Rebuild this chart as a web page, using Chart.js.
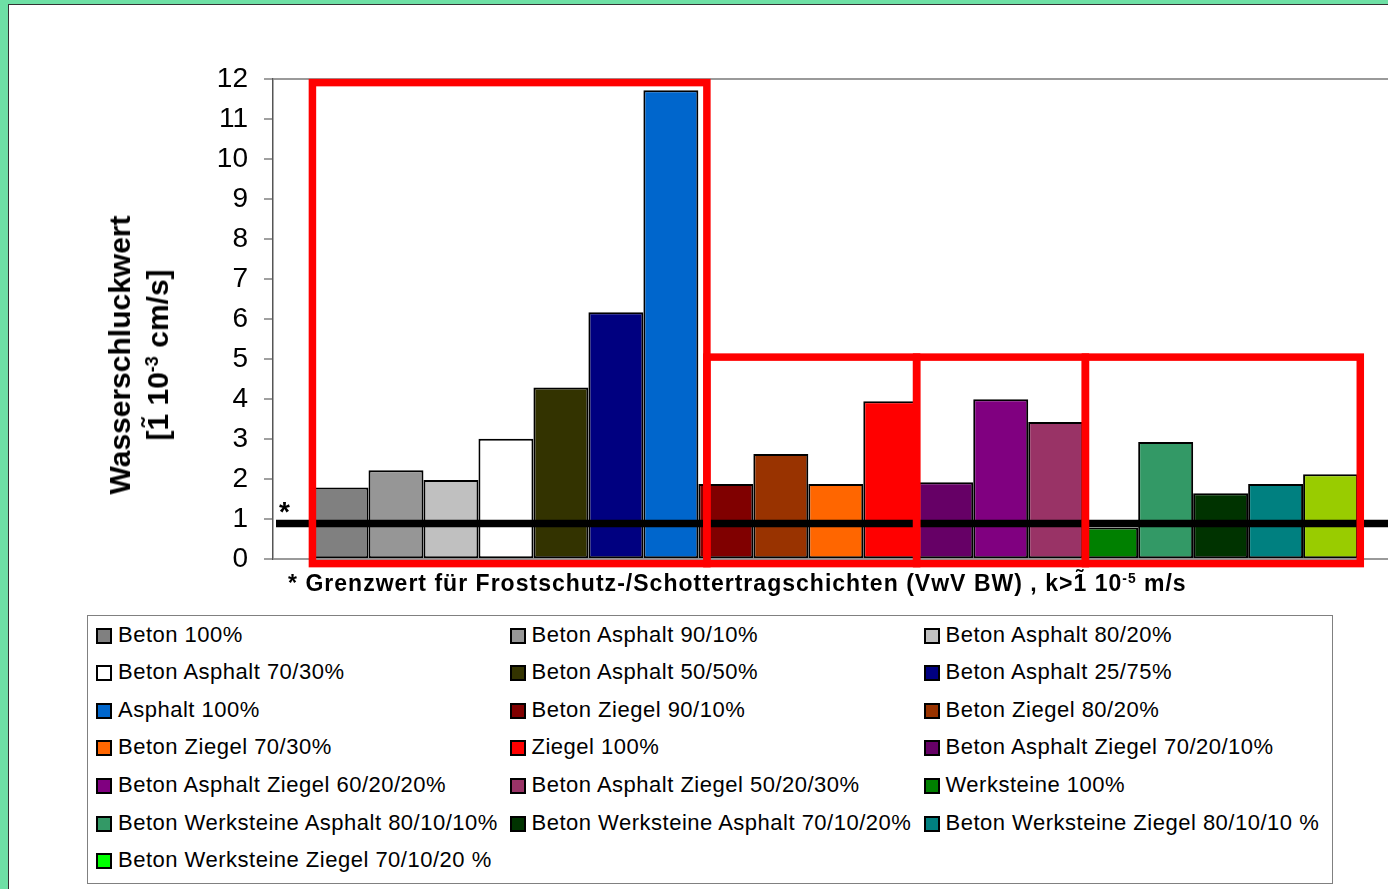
<!DOCTYPE html>
<html><head><meta charset="utf-8">
<script src="https://cdn.jsdelivr.net/npm/chart.js@4.4.1/dist/chart.umd.min.js"></script>
<style>
html,body{margin:0;padding:0;}
body{width:1388px;height:889px;overflow:hidden;position:relative;background:#fff;font-family:"Liberation Sans",Arial,sans-serif;color:#000;}
#greenTop{position:absolute;left:0;top:0;width:1388px;height:4px;background:#6EE0A5;}
#greenLeft{position:absolute;left:0;top:0;width:8px;height:889px;background:#6EE0A5;}
#frame{position:absolute;left:8px;top:4px;width:1400px;height:900px;border-left:1.5px solid #333;border-top:1.5px solid #333;}
#chartWrap{position:absolute;left:0;top:0;width:1400px;height:592px;}
#ytitle{position:absolute;left:139px;top:355px;transform:translate(-50%,-50%) rotate(-90deg);font-weight:bold;font-size:30px;text-align:center;line-height:38px;white-space:nowrap;}
#ytitle sup, #foot sup{font-size:0.6em;line-height:0;vertical-align:0.55em;}
#foot{position:absolute;left:288px;top:570px;font-weight:bold;font-size:23px;line-height:26px;letter-spacing:1.02px;white-space:nowrap;}
#star{position:absolute;left:279px;top:498px;font-weight:bold;font-size:28px;line-height:28px;}
#legendBox{position:absolute;left:87px;top:615px;width:1246px;height:269px;border:1.5px solid #808080;box-sizing:border-box;}
.item{position:absolute;font-size:22px;line-height:26px;letter-spacing:0.5px;white-space:nowrap;}
.sw{position:absolute;width:16px;height:16px;border:2px solid #000;box-sizing:border-box;}
</style></head>
<body>
<div id="greenTop"></div><div id="greenLeft"></div><div id="frame"></div>
<div id="chartWrap"><canvas id="c" width="1400" height="592"></canvas></div>
<div id="ytitle">Wasserschluckwert<br>[1&#x0303; 10<sup>-3</sup> cm/s]</div>
<div id="star">*</div>
<div id="foot">* Grenzwert für Frostschutz-/Schottertragschichten (VwV BW) , k&gt;1&#x0303; 10<sup>-5</sup> m/s</div>
<div id="legendBox"></div>
<script>
const categories = [
  "Beton 100%", "Beton Asphalt 90/10%", "Beton Asphalt 80/20%",
  "Beton Asphalt 70/30%", "Beton Asphalt 50/50%", "Beton Asphalt 25/75%",
  "Asphalt 100%", "Beton Ziegel 90/10%", "Beton Ziegel 80/20%",
  "Beton Ziegel 70/30%", "Ziegel 100%", "Beton Asphalt Ziegel 70/20/10%",
  "Beton Asphalt Ziegel 60/20/20%", "Beton Asphalt Ziegel 50/20/30%", "Werksteine 100%",
  "Beton Werksteine Asphalt 80/10/10%", "Beton Werksteine Asphalt 70/10/20%", "Beton Werksteine Ziegel 80/10/10 %",
  "Beton Werksteine Ziegel 70/10/20 %"
];
const values = [1.79, 2.22, 1.98, 3.01, 4.29, 6.17, 11.72, 1.88, 2.63, 1.88, 3.95, 1.92, 4.00, 3.43, 0.79, 2.93, 1.65, 1.88, 2.12];
const barColors = ["#808080","#969696","#C0C0C0","#FFFFFF","#333300","#000080","#0066CC","#800000","#993300","#FF6600","#FF0000","#660066","#800080","#993366","#008000","#339966","#003300","#008080","#99CC00"];
const legendColors = ["#808080","#969696","#C0C0C0","#FFFFFF","#333300","#000080","#0066CC","#800000","#993300","#FF6600","#FF0000","#660066","#800080","#993366","#008000","#339966","#003300","#008080","#00FF00"];
const yMin = 0, yMax = 12, yStep = 1;
const limitValue = 0.89;
// highlight boxes in bar-index units and value units
const boxStart = [-0.02, 7.155, 10.97, 14.04];
const boxEnd   = [7.155, 10.97, 14.04, 19.04];
const boxTop   = [11.91, 5.05, 5.05, 5.05];
const boxBottom = -0.11;

// legend (HTML)
const cols = [96, 509.5, 923.5];
categories.forEach((name,i)=>{
  const r = Math.floor(i/3), c = i%3;
  const cy = 634 + r*37.6;
  const sw = document.createElement('div');
  sw.className='sw'; sw.style.left=cols[c]+'px'; sw.style.top=(cy+1.5-8)+'px'; sw.style.background=legendColors[i];
  document.body.appendChild(sw);
  const t = document.createElement('div');
  t.className='item'; t.textContent=name; t.style.left=(cols[c]+22)+'px'; t.style.top=(cy-12.5)+'px';
  document.body.appendChild(t);
});

const annot = {
  id:'annot',
  afterDatasetsDraw(chart){
    const ctx=chart.ctx, y=chart.scales.y, area=chart.chartArea;
    const m0=chart.getDatasetMeta(0).data[0];
    const bw=m0.width, left0=m0.x-bw/2;
    const xAt=i=>left0+i*bw;
    ctx.save();
    ctx.strokeStyle='#000'; ctx.lineWidth=7.5; ctx.lineCap='butt';
    const ly=y.getPixelForValue(limitValue);
    ctx.beginPath(); ctx.moveTo(area.left+3, ly); ctx.lineTo(area.right, ly); ctx.stroke();
    ctx.strokeStyle='#FF0000'; ctx.lineWidth=7.5; ctx.lineJoin='miter';
    const yb=y.getPixelForValue(boxBottom);
    for(let k=0;k<boxStart.length;k++){
      const x0=xAt(boxStart[k]), x1=xAt(boxEnd[k]), yt=y.getPixelForValue(boxTop[k]);
      ctx.strokeRect(x0, yt, x1-x0, yb-yt);
    }
    ctx.restore();
  }
};

new Chart(document.getElementById('c'),{
  type:'bar',
  data:{
    labels:[''],
    datasets: categories.map((n,i)=>({label:n,data:[values[i]],backgroundColor:barColors[i],borderColor:'#000',borderWidth:2,borderSkipped:false}))
  },
  options:{
    responsive:false, animation:false,
    layout:{padding:{left:0,right:1.4,top:79,bottom:18.6}},
    datasets:{bar:{categoryPercentage:0.928,barPercentage:1}},
    plugins:{legend:{display:false},tooltip:{enabled:false}},
    scales:{
      x:{display:false},
      y:{
        min:yMin,max:yMax,
        ticks:{stepSize:yStep,font:{family:'"Liberation Sans", Arial, sans-serif',size:28},color:'#000',padding:16},
        grid:{
          color:c=>(c.tick && (c.tick.value===yMin || c.tick.value===yMax)) ? '#9a9a9a' : 'rgba(0,0,0,0)',
          lineWidth:2, tickLength:9, tickColor:'#808080', tickWidth:1.5
        },
        border:{color:'#555',width:1.5},
        afterFit:s=>{s.width=273;}
      }
    }
  },
  plugins:[annot]
});
</script>
</body></html>
